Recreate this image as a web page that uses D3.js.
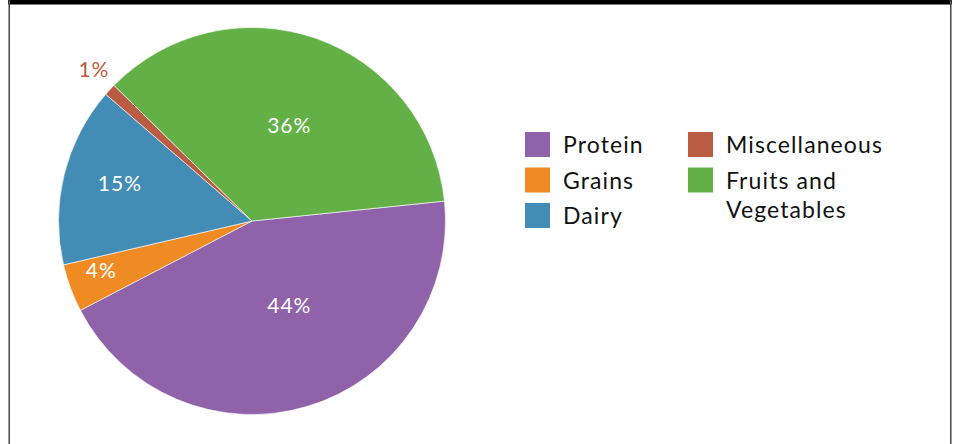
<!DOCTYPE html>
<html>
<head>
<meta charset="utf-8">
<script src="https://cdn.jsdelivr.net/npm/d3@7"></script>
<style>
  html, body { margin: 0; padding: 0; background: #fff; }
  svg { display: block; }
</style>
</head>
<body>
<svg id="chart" width="954" height="444"></svg>
<script>
// ---- data ----
const categories = ["Protein", "Grains", "Dairy", "Miscellaneous", "Fruits and Vegetables"];
const values = [44, 4, 15, 1, 36];
const valueLabels = ["44%", "4%", "15%", "1%", "36%"];
const legendOrder = ["Protein", "Grains", "Dairy", "Miscellaneous", "Fruits and Vegetables"];

// ---- styles ----
const colors = ["#9062AA", "#F08B24", "#438CB6", "#B95C43", "#63B146"];
const labelColors = ["#fff", "#fff", "#fff", "#B95C43", "#fff"];
const labelRadiusFrac = [0.48, 0.82, 0.71, 1.13, 0.53];
const labelAngleNudgeDeg = [-7, 2, 2, 1, 2];
const fontFamily = "Lato, 'Open Sans', sans-serif";

const svg = d3.select("#chart");
const W = 954, H = 444;

// frame
svg.append("rect").attr("x", 8).attr("y", 0).attr("width", 944).attr("height", 4.5).attr("fill", "#000");
svg.append("line").attr("x1", 9.2).attr("x2", 9.2).attr("y1", 0).attr("y2", H).attr("stroke", "#555").attr("stroke-width", 1.6);
svg.append("line").attr("x1", 950.8).attr("x2", 950.8).attr("y1", 0).attr("y2", H).attr("stroke", "#555").attr("stroke-width", 1.6);

const cx = 252, cy = 221, R = 193.5;
const startDeg = 84.1;
const startRad = startDeg * Math.PI / 180;

const pie = d3.pie().value(d => d.value).sort(null)
  .startAngle(startRad).endAngle(startRad + 2 * Math.PI);
const data = categories.map((c, i) => ({ cat: c, value: values[i], label: valueLabels[i], i }));
const arcs = pie(data);
const arc = d3.arc().innerRadius(0).outerRadius(R);

const g = svg.append("g").attr("transform", `translate(${cx},${cy})`);
g.selectAll("path.slice").data(arcs).join("path")
  .attr("class", "slice")
  .attr("d", arc)
  .attr("fill", d => colors[d.data.i])
  .attr("stroke", "#fff")
  .attr("stroke-width", 0.6);

g.selectAll("text.lbl").data(arcs).join("text")
  .attr("class", "lbl")
  .attr("x", d => {
    const a = (d.startAngle + d.endAngle) / 2 + labelAngleNudgeDeg[d.data.i] * Math.PI / 180;
    return Math.sin(a) * R * labelRadiusFrac[d.data.i];
  })
  .attr("y", d => {
    const a = (d.startAngle + d.endAngle) / 2 + labelAngleNudgeDeg[d.data.i] * Math.PI / 180;
    return -Math.cos(a) * R * labelRadiusFrac[d.data.i];
  })
  .attr("dy", "0.35em")
  .attr("text-anchor", "middle")
  .attr("font-family", fontFamily)
  .attr("font-size", 21)
  .attr("letter-spacing", 1)
  .attr("fill", d => labelColors[d.data.i])
  .text(d => d.data.label);

// legend
const legendCols = [[0, 1, 2], [3, 4]];
const colX = [525, 688];
const rowY = [132, 167.5, 203];
const lg = svg.append("g");
legendCols.forEach((col, ci) => {
  col.forEach((k, ri) => {
    const name = legendOrder[k];
    const idx = categories.indexOf(name);
    lg.append("rect").attr("x", colX[ci]).attr("y", rowY[ri]).attr("width", 25).attr("height", 25)
      .attr("fill", colors[idx]);
    const t = lg.append("text").attr("x", colX[ci] + 38).attr("y", rowY[ri] + 21)
      .attr("font-family", fontFamily).attr("font-size", 23).attr("letter-spacing", 1.1).attr("fill", "#111");
    if (name === "Fruits and Vegetables") {
      t.append("tspan").attr("x", colX[ci] + 38).text("Fruits and");
      t.append("tspan").attr("x", colX[ci] + 38).attr("dy", 29).text("Vegetables");
    } else {
      t.text(name);
    }
  });
});
</script>
</body>
</html>
